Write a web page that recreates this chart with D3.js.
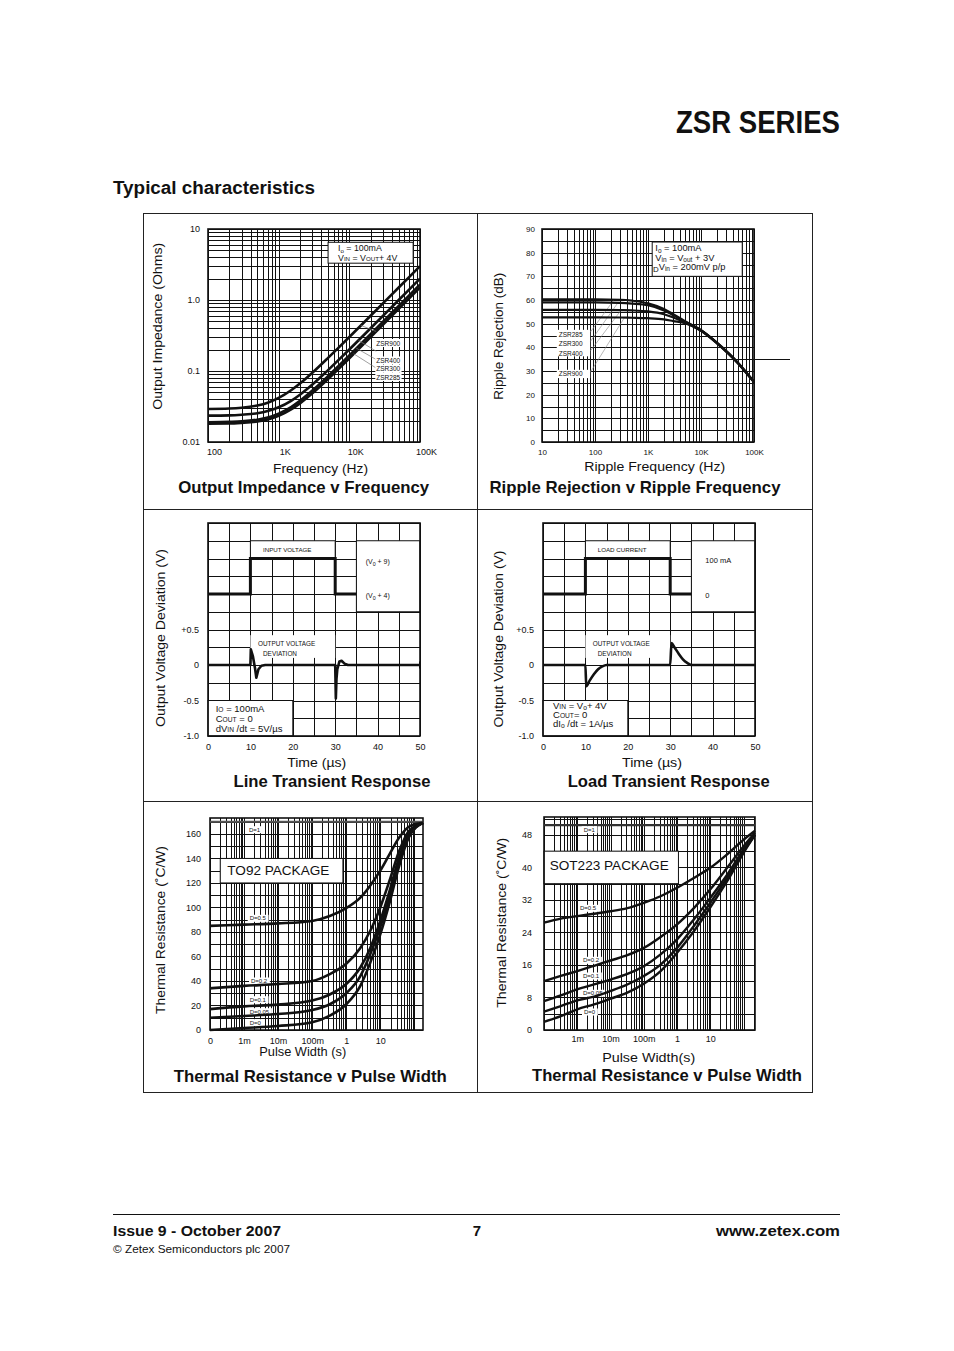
<!DOCTYPE html>
<html><head><meta charset="utf-8">
<script src="https://cdn.jsdelivr.net/npm/d3@7"></script>
<style>
html,body{margin:0;padding:0;background:#fff;}
svg{display:block;}
text{font-family:"Liberation Sans",Arial,Helvetica,sans-serif;fill:#111;}
</style></head><body>
<svg id="c" width="954" height="1351"></svg>
<script>
// ---------------- DATA ----------------
// Output impedance vs frequency
const impFreq = [100,200,300,500,700,1000,1500,2000,3000,5000,7000,10000,20000,50000,100000];
const impZSR900 = [0.0292,0.0296,0.0304,0.0327,0.0358,0.0417,0.0535,0.0666,0.0946,0.153,0.212,0.301,0.60,1.50,3.0];
const impZSR400 = [0.0235,0.0237,0.0242,0.0254,0.0273,0.0308,0.0380,0.0463,0.0644,0.103,0.142,0.201,0.40,1.0,2.0];
const impZSR300 = [0.0190,0.0192,0.0195,0.0206,0.0221,0.0251,0.0311,0.0380,0.0530,0.0846,0.117,0.166,0.33,0.825,1.65];
const impZSR285 = [0.0181,0.0182,0.0186,0.0195,0.0208,0.0234,0.0288,0.0350,0.0485,0.0771,0.1065,0.151,0.30,0.75,1.5];
const impTickLabels = ["100","1K","10K","100K"];
const impYTickLabels = ["0.01","0.1","1.0","10"];

// Ripple rejection vs ripple frequency
const ripFreq = [10,100,300,500,1000,2000,3000,5000,10000,20000,50000,100000];
const ripZSR285 = [60.3,60.3,60.1,59.7,58.6,56.2,54.0,51.0,47.3,42.0,33.5,25.5];
const ripZSR300 = [59.0,59.0,58.8,58.5,57.8,55.6,53.6,50.8,47.2,41.9,33.4,25.4];
const ripZSR400 = [55.8,55.8,55.7,55.6,55.2,54.0,52.6,50.5,47.1,41.8,33.3,25.3];
const ripZSR900 = [52.7,52.7,52.6,52.5,52.3,51.8,51.1,50.2,47.0,41.7,33.2,25.2];
const ripTickLabels = ["10","100","1K","10K","100K"];
const ripYTicks = [0,10,20,30,40,50,60,70,80,90];

// Line transient response (grid units: 0 = no deviation; 1.0 / 1.5 = input low / high)
const lineStepTime = [0,10,10,30,30,35];
const lineStepLevel = [1.0,1.0,1.5,1.5,1.0,1.0];
const lineTime = [0,10,10.1,10.6,11.1,11.4,11.9,12.6,13.5,30,30.15,30.3,30.5,31,31.5,32.2,33,50];
const lineDev  = [0,0,0.22,0.12,-0.05,-0.18,-0.06,-0.01,0,0,-0.47,-0.2,-0.06,0.05,0.06,0.02,0,0];

// Load transient response
const loadStepTime = [0,10,10,30,30,35];
const loadStepLevel = [1.0,1.0,1.5,1.5,1.0,1.0];
const loadTime = [0,10,10.2,11,12,13,14,15,30,30.3,31,32,33,34,35,50];
const loadDev  = [0,0,-0.30,-0.22,-0.13,-0.06,-0.02,0,0,0.31,0.25,0.16,0.08,0.03,0,0];
const transXTicks = [0,10,20,30,40,50];
const transYTicks = [0.5,0,-0.5,-1.0];
const transYLabels = ["+0.5","0","-0.5","-1.0"];

// Thermal resistance TO92
const to92Time = [1e-4,1e-3,1e-2,0.1,0.33,1,2.6,5.1,10,18.8,36,70,180];
const to92D1   = 170;
const to92D05  = [85,86,87,89,93,99.5,108,118,130,143.5,157,166,169];
const to92D02  = [34,36,37.5,40,45.6,54,67,81,100,122,146,162.5,169];
const to92D01  = [17,19.3,20.7,24,29,37.5,51,67,89,113.6,141,160,169];
const to92D005 = [10,11.4,13,16.3,21,30,44,62,84,108,137,158.4,169];
const to92D0   = [0,1.6,3.3,6.3,11.7,21,36,55,78,104,134,157.6,169];
const to92XTicks = [1e-4,1e-3,1e-2,0.1,1,10];
const to92XLabels = ["0","1m","10m","100m","1","10"];
const to92YTicks = [0,20,40,60,80,100,120,140,160];

// Thermal resistance SOT223
const sotTime = [1e-4,3.2e-4,1e-3,3.2e-3,1e-2,3.2e-2,0.1,0.32,1,3.2,10,32,100,220];
const sotD1   = 50.4;
const sotD05  = [26.4,27.4,28,28.6,29.2,30,31.3,32.9,35,37.4,39.9,43.2,46.8,49];
const sotD02  = [12,13.3,14.5,15.8,17.1,18.4,20.2,22.9,26,30,34.6,39.9,45.2,48.5];
const sotD01  = [7.1,8.5,10,11.2,12.4,13.8,15.7,18.6,22.3,27.2,32.5,38.2,44.4,48];
const sotD005 = [4.5,5.9,7.3,8.2,9.6,11.2,13.3,16.1,20.2,25.6,31.3,37.4,44,48];
const sotD0   = [2,3.4,5.1,6.3,7.7,9.2,11.4,14.5,19,24.3,30.2,36.6,43.6,48];
const sotXTicks = [1e-3,1e-2,0.1,1,10];
const sotXLabels = ["1m","10m","100m","1","10"];
const sotYTicks = [0,8,16,24,32,40,48];

// ---------------- HELPERS ----------------
const svg = d3.select('#c');
const INK = '#111';

function logGrid(a,b){
  const out=[];
  for(let e=Math.floor(Math.log10(a)); e<=Math.ceil(Math.log10(b)); e++){
    for(let m=1;m<10;m++){const v=m*Math.pow(10,e); if(v>=a*0.999 && v<=b*1.001) out.push(+v.toPrecision(6));}
  }
  return out;
}
function fit(sel,w){ return sel.attr('textLength',w).attr('lengthAdjust','spacingAndGlyphs'); }
function text(g,x,y,s,fs,opt){
  opt=opt||{};
  const t=g.append('text').attr('x',x).attr('y',y).attr('font-size',fs)
    .attr('text-anchor',opt.anchor||'start').text(s);
  if(opt.bold) t.attr('font-weight','bold');
  if(opt.w) fit(t,opt.w);
  return t;
}
function rich(g,x,y,segs,fs){
  const t=g.append('text').attr('x',x).attr('y',y).attr('font-size',fs);
  segs.forEach(s=>{const sp=t.append('tspan').text(s[0]).attr('font-size',fs*(s[1]||1)); if(s[2]) sp.attr('dy',s[2]);});
  return t;
}
function bgLabel(g,x,y,s,fs,pad){
  const t=text(g,x,y,s,fs);
  const bb=t.node().getBBox();
  g.insert('rect',()=>t.node()).attr('x',bb.x-pad).attr('y',bb.y-0.5).attr('width',bb.width+2*pad).attr('height',bb.height+1).attr('fill','#fff');
  return t;
}
function ytitle(g,cx,cy,s,fs,w){
  const t=g.append('text').attr('transform',`translate(${cx+fs*0.36},${cy}) rotate(-90)`)
    .attr('text-anchor','middle').attr('font-size',fs).text(s);
  if(w) fit(t,w);
  return t;
}

function panel(o){
  const g=svg.append('g');
  const {x,y,L,R,T,B}=o;
  const grid=g.append('g').attr('stroke',INK).attr('stroke-width',1).attr('shape-rendering','crispEdges');
  grid.selectAll('line.v').data(o.xGrid).join('line').attr('class','v')
    .attr('x1',d=>Math.round(x(d))+0.5).attr('x2',d=>Math.round(x(d))+0.5).attr('y1',T).attr('y2',B);
  grid.selectAll('line.h').data(o.yGrid).join('line').attr('class','h')
    .attr('y1',d=>Math.round(y(d))+0.5).attr('y2',d=>Math.round(y(d))+0.5).attr('x1',L).attr('x2',R);
  (o.masks||[]).forEach(m=>{
    const x0=x(m[0]),x1=x(m[1]),y0=y(m[3]),y1=y(m[2]);
    g.append('rect').attr('x',x0).attr('y',y0).attr('width',x1-x0).attr('height',y1-y0)
      .attr('fill','#fff').attr('stroke',m[4]?INK:'none').attr('stroke-width',1);
  });
  g.append('rect').attr('x',L).attr('y',T).attr('width',R-L).attr('height',B-T)
    .attr('fill','none').attr('stroke',INK).attr('stroke-width',1.6);
  const ax=g.append('g').attr('transform',`translate(${o.xShift||0},${B})`)
    .call(d3.axisBottom(x).tickValues(o.xTicks).tickFormat((d,i)=>o.xLabels[i]).tickSize(0).tickPadding(o.xPad));
  ax.select('.domain').remove();
  ax.attr('font-size',o.tickFs).attr('font-family',null);
  ax.selectAll('text').attr('fill','#000');
  const ay=g.append('g').attr('transform',`translate(${L},0)`)
    .call(d3.axisLeft(y).tickValues(o.yTicks).tickFormat((d,i)=>o.yLabels[i]).tickSize(0).tickPadding(o.yPad));
  ay.select('.domain').remove();
  ay.attr('font-size',o.tickFs).attr('font-family',null);
  ay.selectAll('text').attr('fill','#000');
  return g;
}
function curve(g,x,y,xs,ys,w,kind){
  const line=d3.line().x(d=>x(d[0])).y(d=>y(d[1])).curve(kind||d3.curveMonotoneX);
  return g.append('path').datum(d3.zip(xs,ys)).attr('d',line).attr('fill','none')
    .attr('stroke',INK).attr('stroke-width',w).attr('stroke-linejoin','round');
}

// ---------------- PAGE ----------------
fit(svg.append('text').attr('x',840).attr('y',133).attr('text-anchor','end')
  .attr('font-size',31).attr('font-weight','bold').text('ZSR SERIES'),164);
fit(svg.append('text').attr('x',113).attr('y',194).attr('font-size',18)
  .attr('font-weight','bold').text('Typical characteristics'),202);

const frame=svg.append('g').attr('stroke','#222').attr('stroke-width',1).attr('fill','none').attr('shape-rendering','crispEdges');
frame.append('rect').attr('x',143.5).attr('y',213.5).attr('width',669).attr('height',879);
frame.append('line').attr('x1',477.5).attr('x2',477.5).attr('y1',213).attr('y2',1092);
frame.append('line').attr('x1',143).attr('x2',812).attr('y1',509.5).attr('y2',509.5);
frame.append('line').attr('x1',143).attr('x2',812).attr('y1',801.5).attr('y2',801.5);

svg.append('line').attr('x1',113).attr('x2',840).attr('y1',1214.5).attr('y2',1214.5)
  .attr('stroke',INK).attr('stroke-width',1.2);
text(svg,113,1236,'Issue 9 - October 2007',15,{bold:true,w:168});
text(svg,477,1236,'7',15,{bold:true,anchor:'middle'});
text(svg,840,1236,'www.zetex.com',15,{bold:true,anchor:'end',w:124});
text(svg,113,1253,'© Zetex Semiconductors plc 2007',10.5,{w:177});

// ---------------- PANEL 1: Output impedance ----------------
{
  const L=208,R=420,T=229,B=442;
  const x=d3.scaleLog().domain([100,1e5]).range([L,R]);
  const y=d3.scaleLog().domain([0.01,10]).range([B,T]);
  const g=panel({x,y,L,R,T,B,xGrid:logGrid(100,1e5),yGrid:logGrid(0.01,10),
    masks:[[5000,80000,3.3,6.5,true]],
    xTicks:[100,1000,10000,100000],xLabels:impTickLabels,xPad:7,xShift:6,
    yTicks:[0.01,0.1,1,10],yLabels:impYTickLabels,yPad:8,tickFs:9});
  [impZSR285,impZSR300,impZSR400,impZSR900].forEach(a=>curve(g,x,y,impFreq,a,2.6));
  rich(g,338,251,[['I'],['o',0.7,1.5],[' = 100mA',1,-1.5]],8.8);
  rich(g,338,261,[['V'],['IN',0.7],['  = V'],['OUT',0.7],['+ 4V']],8.8);
  // leader lines
  const lead=[[[24000,0.36],[14500,0.44]],[[24000,0.19],[13500,0.27]],[[24000,0.145],[12500,0.21]],[[24000,0.11],[11500,0.175]]];
  lead.forEach(l=>g.append('line').attr('x1',x(l[0][0])).attr('y1',y(l[0][1])).attr('x2',x(l[1][0])).attr('y2',y(l[1][1]))
    .attr('stroke','#777').attr('stroke-width',0.7));
  bgLabel(g,376.3,345.5,'ZSR900',6.5,1);
  bgLabel(g,376.3,363,'ZSR400',6.5,1);
  bgLabel(g,376.3,371.3,'ZSR300',6.5,1);
  bgLabel(g,376.3,379.5,'ZSR285',6.5,1);
  fit(text(g,320.5,472.5,'Frequency (Hz)',12.5,{anchor:'middle'}),95);
  ytitle(g,158,326.3,'Output Impedance (Ohms)',12,167);
  text(g,303.7,493,'Output Impedance v Frequency',16.5,{bold:true,anchor:'middle',w:251});
}

// ---------------- PANEL 2: Ripple rejection ----------------
{
  const L=542,R=754,T=229,B=442;
  const x=d3.scaleLog().domain([10,1e5]).range([L,R]);
  const y=d3.scaleLinear().domain([0,90]).range([B,T]);
  const g=panel({x,y,L,R,T,B,xGrid:logGrid(10,1e5),yGrid:d3.range(0,91,5),
    masks:[[1200,60000,70,84.5,true],[19,81,36.2,47.4,false],[19,81,27,30.5,false]],
    xTicks:[10,100,1000,10000,100000],xLabels:ripTickLabels,xPad:7,
    yTicks:ripYTicks,yLabels:ripYTicks.map(String),yPad:7,tickFs:8});
  g.append('line').attr('x1',R).attr('x2',790).attr('y1',Math.round(y(35))+0.5).attr('y2',Math.round(y(35))+0.5)
    .attr('stroke',INK).attr('stroke-width',1);
  const lead=[[[82,46.5],[230,60.2]],[[82,42.5],[270,58.8]],[[82,38.5],[310,55.7]],[[82,29.5],[360,52.6]]];
  lead.forEach(l=>g.append('line').attr('x1',x(l[0][0])).attr('y1',y(l[0][1])).attr('x2',x(l[1][0])).attr('y2',y(l[1][1]))
    .attr('stroke','#888').attr('stroke-width',0.6));
  [ripZSR285,ripZSR300,ripZSR400,ripZSR900].forEach(a=>curve(g,x,y,ripFreq,a,2.2));
  text(g,558.7,336.5,'ZSR285',6.5);
  text(g,558.7,345.5,'ZSR300',6.5);
  text(g,558.7,355.5,'ZSR400',6.5);
  text(g,558.7,376,'ZSR900',6.5);
  rich(g,655.3,251,[['I'],['o',0.7,1.5],[' = 100mA',1,-1.5]],9.3);
  rich(g,655.3,260.5,[['V'],['in',0.7,1],[' = V',1,-1],['out',0.7,1],[' + 3V',1,-1]],9.3);
  rich(g,653,270.5,[['D',0.85,1.5],['V',1,-2.5],['in',0.7,1],[' = 200mV p/p',1,-1]],9.3);
  fit(text(g,654.8,471,'Ripple Frequency (Hz)',12.5,{anchor:'middle'}),141);
  ytitle(g,498.7,336.3,'Ripple Rejection (dB)',12,127);
  text(g,635,493,'Ripple Rejection v Ripple Frequency',16.5,{bold:true,anchor:'middle',w:291});
}

// ---------------- PANEL 3 & 4: transients ----------------
function transient(o){
  const {L,R,T,B}=o;
  const x=d3.scaleLinear().domain([0,50]).range([L,R]);
  const y=d3.scaleLinear().domain([-1,2]).range([B,T]);
  const g=panel({x,y,L,R,T,B,xGrid:d3.range(0,51,5),yGrid:d3.range(-1,2.01,0.25),
    masks:[[0,20,-1,-0.5,true],[35,50,0.75,1.75,true],[10,30,1.5,1.75,true],[10,30,0.1,0.42,false]],
    xTicks:transXTicks,xLabels:transXTicks.map(String),xPad:7.5,
    yTicks:transYTicks,yLabels:transYLabels,yPad:9,tickFs:9});
  curve(g,x,y,o.stepT,o.stepV,3,d3.curveLinear).attr('stroke-linejoin','miter');
  curve(g,x,y,o.devT,o.devV,2.6,o.devCurve);
  return {g,x,y};
}
{
  const {g,x,y}=transient({L:208,R:420,T:523,B:736,stepT:lineStepTime,stepV:lineStepLevel,
    devT:lineTime,devV:lineDev,devCurve:d3.curveLinear});
  g.append('line').attr('x1',x(50)).attr('x2',x(50)).attr('y1',y(0.05)).attr('y2',y(-0.05)).attr('stroke',INK).attr('stroke-width',2);
  text(g,263,552,'INPUT VOLTAGE',6.2);
  text(g,258,645.5,'OUTPUT VOLTAGE',6.4);
  text(g,263,655.5,'DEVIATION',6.4);
  rich(g,365.7,564,[['(V'],['0',0.75,2],[' + 9)',1,-2]],7);
  rich(g,365.7,597.5,[['(V'],['0',0.75,2],[' + 4)',1,-2]],7);
  rich(g,215.7,711.5,[['I'],['O',0.7],[' = 100mA']],9.5);
  rich(g,215.7,721.5,[['C'],['OUT',0.7],['   = 0']],9.5);
  rich(g,215.7,732,[['dV'],['IN',0.7],[' /dt = 5V/µs']],9.5);
  fit(text(g,316.7,767,'Time (µs)',12.5,{anchor:'middle'}),59);
  ytitle(g,160.3,638,'Output Voltage Deviation (V)',12,178);
  text(g,332,786.5,'Line Transient Response',16.5,{bold:true,anchor:'middle',w:197});
}
{
  const {g,x,y}=transient({L:543,R:755,T:523,B:736,stepT:loadStepTime,stepV:loadStepLevel,
    devT:loadTime,devV:loadDev,devCurve:d3.curveMonotoneX});
  text(g,597.7,552,'LOAD CURRENT',6.2);
  text(g,592.7,645.5,'OUTPUT VOLTAGE',6.4);
  text(g,597.7,655.5,'DEVIATION',6.4);
  text(g,705.3,563,'100 mA',7.5);
  text(g,705.3,597.5,'0',7.5);
  rich(g,553,709,[['V'],['IN',0.7],[' = V'],['o',0.7,1],['+ 4V',1,-1]],9.5);
  rich(g,553,718,[['C'],['OUT',0.7],['= 0']],9.5);
  rich(g,553,727,[['dI'],['o',0.7,1],[' /dt = 1A/µs',1,-1]],9.5);
  fit(text(g,652,767,'Time (µs)',12.5,{anchor:'middle'}),60);
  ytitle(g,498.7,639,'Output Voltage Deviation (V)',12,177);
  text(g,668.7,786.5,'Load Transient Response',16.5,{bold:true,anchor:'middle',w:202});
}

// ---------------- PANEL 5: TO92 ----------------
{
  const L=210,R=423,T=818,B=1030;
  const x=d3.scaleLog().domain([1e-4,180]).range([L,R]);
  const y=d3.scaleLinear().domain([0,173]).range([B,T]);
  const g=panel({x,y,L,R,T,B,xGrid:logGrid(1e-4,180),yGrid:d3.range(0,171,10),
    masks:[[2e-4,0.8,120,140,true]],
    xTicks:to92XTicks,xLabels:to92XLabels,xPad:7.5,
    yTicks:to92YTicks,yLabels:to92YTicks.map(String),yPad:9,tickFs:9});
  g.append('line').attr('x1',L).attr('x2',R).attr('y1',y(to92D1)).attr('y2',y(to92D1)).attr('stroke','#555').attr('stroke-width',2);
  bgLabel(g,249,831.7,'D=1',6,2);
  bgLabel(g,249.7,920.3,'D=0.5',6,2);
  bgLabel(g,251,983,'D=0.2',6,2);
  bgLabel(g,249.7,1001.7,'D=0.1',6,2);
  bgLabel(g,249.7,1013.7,'D=0.05',6,2);
  bgLabel(g,249.7,1024.7,'D=0',6,2);
  [to92D05,to92D02,to92D01,to92D005,to92D0].forEach(a=>curve(g,x,y,to92Time,a,2.6));
  fit(text(g,227.3,874.5,'TO92 PACKAGE',13.5),102);
  fit(text(g,302.7,1056,'Pulse Width (s)',12.5,{anchor:'middle'}),87);
  ytitle(g,160.3,930,'Thermal Resistance (˚C/W)',12,168);
  text(g,310.3,1082,'Thermal Resistance v Pulse Width',16.5,{bold:true,anchor:'middle',w:273});
}

// ---------------- PANEL 6: SOT223 ----------------
{
  const L=544,R=755,T=817,B=1030;
  const x=d3.scaleLog().domain([1e-4,220]).range([L,R]);
  const y=d3.scaleLinear().domain([0,52.4]).range([B,T]);
  const g=panel({x,y,L,R,T,B,xGrid:logGrid(1e-4,220),yGrid:d3.range(0,53,4),
    masks:[[1e-4,1.1,36,44,true]],
    xTicks:sotXTicks,xLabels:sotXLabels,xPad:5.5,
    yTicks:sotYTicks,yLabels:sotYTicks.map(String),yPad:12,tickFs:9});
  g.append('line').attr('x1',L).attr('x2',R).attr('y1',y(sotD1)).attr('y2',y(sotD1)).attr('stroke','#333').attr('stroke-width',2.4);
  bgLabel(g,583.7,831.7,'D=1',6,2);
  bgLabel(g,580,910.3,'D=0.5',6,2);
  bgLabel(g,583,962.3,'D=0.2',6,2);
  bgLabel(g,583,978,'D=0.1',6,2);
  bgLabel(g,583,995.3,'D=0.05',6,2);
  bgLabel(g,584,1014,'D=0',6,2);
  [sotD05,sotD02,sotD01,sotD005,sotD0].forEach(a=>curve(g,x,y,sotTime,a,2.4));
  fit(text(g,549.7,870,'SOT223 PACKAGE',13.5),119);
  fit(text(g,648.7,1062,'Pulse Width(s)',12.5,{anchor:'middle'}),93);
  ytitle(g,502,922.7,'Thermal Resistance (˚C/W)',12,170);
  text(g,667,1081,'Thermal Resistance v Pulse Width',16.5,{bold:true,anchor:'middle',w:270});
}
</script></body></html>
